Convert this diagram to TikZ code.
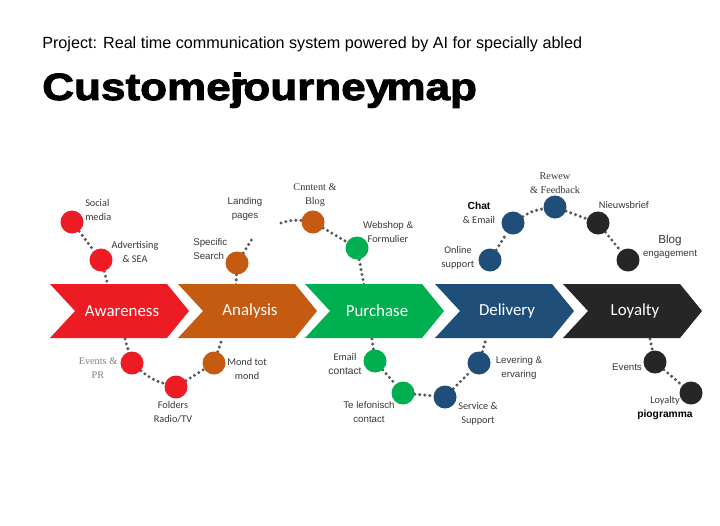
\documentclass[tikz,border=0pt]{standalone}
\usepackage{fontspec}
\setmainfont{Liberation Sans}
\newfontfamily\calfont{Carlito}
\newfontfamily\timesfont{Liberation Serif}
\newfontfamily\heavyfont{Liberation Sans}[BoldFeatures={FakeBold=2.5,FakeStretch=1.16}]
\usepackage{tikz}
\usetikzlibrary{positioning,backgrounds}
\definecolor{jmRed}{RGB}{237,28,36}
\definecolor{jmOrange}{RGB}{197,90,17}
\definecolor{jmGreen}{RGB}{0,176,80}
\definecolor{jmBlue}{RGB}{31,78,121}
\definecolor{jmBlack}{RGB}{38,38,38}
\newcommand{\lblsize}{\fontsize{7.3}{9.6}\selectfont}

\begin{document}
\begin{tikzpicture}[x=0.025cm, y=-0.025cm,
  spot/.style={circle, minimum size=0.575cm, inner sep=0pt},
  trail/.style={draw=black!65, line width=2.4pt, dash pattern=on 0pt off 3.6pt, line cap=round},
  lbl/.style={font=\calfont\lblsize, text=black!78, align=center, inner sep=0pt},
  lbla/.style={lbl, font=\fontsize{6.9}{9.6}\selectfont},
  lblt/.style={lbl, font=\timesfont\lblsize},
  stagetxt/.style={font=\calfont\fontsize{12}{14}\selectfont, text=white, minimum height=1.35cm, inner sep=0pt}]
\useasboundingbox (0,0) rectangle (720,525);
% header
\node[anchor=base west, inner sep=0pt, font=\fontsize{11.5}{13}\selectfont] (proj) at (42,49) {Project: Real time communication system powered by AI for specially abled};
\node[anchor=base west, inner sep=0pt, font=\heavyfont\bfseries\fontsize{27}{30}\selectfont] (title) at (42,100) {Custome\kern-0.02em r\kern-0.42em journey\kern-0.1em map};
% stages
\foreach \x/\c/\n/\t in {50/jmRed/aw/Awareness, 178/jmOrange/an/Analysis, 305/jmGreen/pu/Purchase, 435/jmBlue/de/Delivery, 563/jmBlack/lo/Loyalty} {
  \fill[\c] (\x,284) -- (\x+117,284) -- (\x+139,311) -- (\x+117,338) -- (\x,338) -- (\x+25,311) -- cycle;
  \node[stagetxt] (\n) at (\x+72,311) {\t};
}
% touchpoints above
\node[spot, fill=jmRed] (sm) at (72,222) {};
\node[spot, fill=jmRed] (ad) at (101,260) {};
\node[spot, fill=jmOrange] (ss) at (237,263) {};
\node[spot, fill=jmOrange] (cb) at (313,222) {};
\node[spot, fill=jmGreen] (ws) at (357,248) {};
\node[spot, fill=jmBlue] (os) at (490,260) {};
\node[spot, fill=jmBlue] (ce) at (513,223) {};
\node[spot, fill=jmBlue] (rf) at (555,207) {};
\node[spot, fill=jmBlack] (nb) at (598,223) {};
\node[spot, fill=jmBlack] (be) at (628,260) {};
% touchpoints below
\node[spot, fill=jmRed] (ep) at (132,363) {};
\node[spot, fill=jmRed] (fr) at (176,387) {};
\node[spot, fill=jmOrange] (mm) at (214,363) {};
\node[spot, fill=jmGreen] (ec) at (375,361) {};
\node[spot, fill=jmGreen] (tc) at (403,393) {};
\node[spot, fill=jmBlue] (sv) at (445,397) {};
\node[spot, fill=jmBlue] (le) at (479,363) {};
\node[spot, fill=jmBlack] (ev) at (655,362) {};
\node[spot, fill=jmBlack] (lp) at (691,393) {};
% free ends on the stages
\coordinate (awT) at (108,285);
\coordinate (anT) at (236,285);
\coordinate (puT) at (364,285);
\coordinate (awB) at (125,339);
\coordinate (anB) at (222,339);
\coordinate (puB) at (372,339);
\coordinate (deB) at (486,339);
\coordinate (loB) at (650,339);
\coordinate (lpE) at (254,236);
\coordinate (cbS) at (281,223);
\begin{scope}[on background layer]
\fill[white] (0,0) rectangle (720,525);
\foreach \a/\b in {sm/ad,ad/awT,ss/anT,ss/lpE,cb/ws,ws/puT,os/ce,rf/nb,nb/be,awB/ep,fr/mm,mm/anB,puB/ec,ec/tc,tc/sv,sv/le,le/deB,loB/ev,ev/lp} \draw[trail] (\a) -- (\b);
\draw[trail] (cbS) to[bend left=10] (cb);
\draw[trail] (ce) to[bend left=12] (rf);
\draw[trail] (ep) to[bend right=12] (fr);
\end{scope}
% labels
\node[lbl, align=left, anchor=west] (smL) at (85,210) {Social\\media};
\node[lbl] (adL) at (135,252) {Advertising\\\& SEA};
\node[lbla] (lpL) at (245,209) {Landing\\pages};
\node[lbla, align=left, anchor=west] (ssL) at (193,249) {Specific\\Search};
\node[lblt] (cbL) at (315,195) {Cnntent \&\\Blog};
\node[lbla] (wsL) at (388,232) {Webshop \&\\{\calfont\lblsize Formulier}};
\node[lbl] (ceL) at (479,213) {{\fontspec{Liberation Sans}\bfseries\color{black}Chat}\\\& Email};
\node[lbl] (osL) at (458,258) {Online\\support};
\node[lblt] (rfL) at (555,183) {Rewew\\\& Feedback};
\node[lbl] (nbL) at (624,205) {Nieuwsbrief};
\node[lbla] (beL) at (670,247) {{\fontsize{8.3}{9}\selectfont Blog}\\engagement};
\node[lblt, text=black!50] (epL) at (98,368) {Events \&\\PR};
\node[lbl] (frL) at (173,412) {Folders\\Radio/TV};
\node[lbl] (mmL) at (247,369) {Mond tot\\mond};
\node[lbl] (ecL) at (345,364) {Email\\{\fontspec{Liberation Sans}contact}};
\node[lbla] (tcL) at (369,412) {Te lefonisch\\contact};
\node[lbl] (svL) at (478,414) {Service \&\\Support};
\node[lbla] (leL) at (519,368) {Levering \&\\ervaring};
\node[lbla] (evL) at (627,367) {Events};
\node[lbl] (lpL2) at (665,408) {Loyalty\\{\fontspec{Liberation Sans}\bfseries\color{black}piogramma}};
\end{tikzpicture}
\end{document}
